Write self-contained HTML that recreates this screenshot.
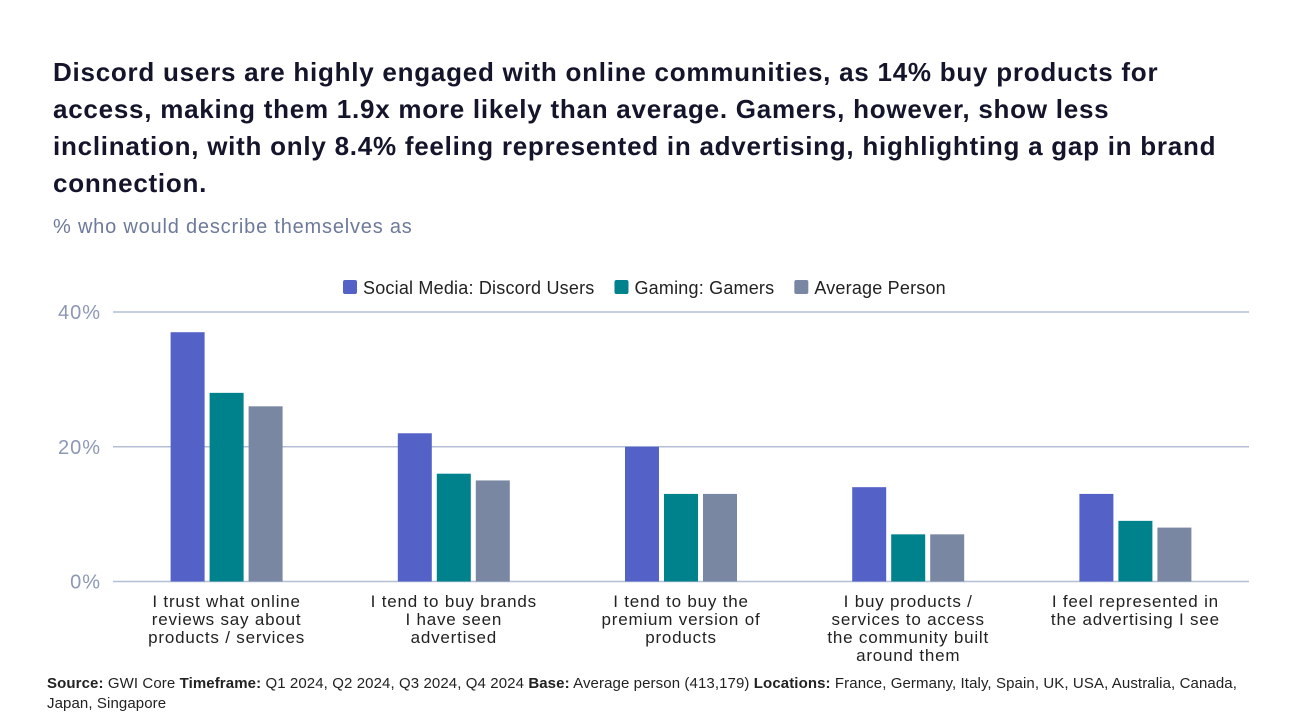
<!DOCTYPE html>
<html><head><meta charset="utf-8"><style>
body{margin:0;width:1292px;height:722px;background:#fff;font-family:"Liberation Sans",sans-serif;overflow:hidden;position:relative}
#title{position:absolute;left:53px;top:54px;white-space:nowrap;font-size:26px;font-weight:bold;line-height:37px;color:#14142b;letter-spacing:0.75px}
#sub{position:absolute;left:53px;top:216px;font-size:20px;color:#6d7a99;letter-spacing:0.8px}
#foot{position:absolute;left:47px;top:674px;white-space:nowrap;font-size:15px;line-height:20px;color:#222;letter-spacing:0.1px}
svg{position:absolute;left:0;top:0}
</style></head><body>
<div id="title">Discord users are highly engaged with online communities, as 14% buy products for<br>access, making them 1.9x more likely than average. Gamers, however, show less<br>inclination, with only 8.4% feeling represented in advertising, highlighting a gap in brand<br>connection.</div>
<div id="sub">% who would describe themselves as</div>
<svg id="chart" width="1292" height="722"></svg>
<div id="foot"><b>Source:</b> GWI Core <b>Timeframe:</b> Q1 2024, Q2 2024, Q3 2024, Q4 2024 <b>Base:</b> Average person (413,179) <b>Locations:</b> France, Germany, Italy, Spain, UK, USA, Australia, Canada,<br>Japan, Singapore</div>
<script>
const categories=[["I trust what online","reviews say about","products / services"],["I tend to buy brands","I have seen","advertised"],["I tend to buy the","premium version of","products"],["I buy products /","services to access","the community built","around them"],["I feel represented in","the advertising I see"]];
const seriesNames=["Social Media: Discord Users","Gaming: Gamers","Average Person"];
const discord=[37,22,20,14,13];
const gamers=[28,16,13,7,9];
const average=[26,15,13,7,8];
const ticks=[0,20,40];
const tickLabels=["0%","20%","40%"];
const colors=["#5462c8","#00828c","#7a87a3"];
const series=[discord,gamers,average];
const svg=document.getElementById('chart');const NS="http://www.w3.org/2000/svg";
const x0=113,x1=1249,y0=581.5,yTop=312,maxV=40;
const y=v=>y0-(y0-yTop)*v/maxV;
const gw=(x1-x0)/categories.length;
const xc=i=>x0+gw*(i+0.5);
function mk(t,a){const e=document.createElementNS(NS,t);for(const k in a)e.setAttribute(k,a[k]);svg.appendChild(e);return e;}
ticks.forEach((t,i)=>{
 const l=mk('line',{x1:x0,x2:x1,y1:y(t),y2:y(t),stroke:'#b4bfd6','stroke-width':1.5});
 
 
 const tx=mk('text',{x:101,y:y(t)+7,'text-anchor':'end','font-size':20,fill:'#8c98b4','letter-spacing':1});tx.textContent=tickLabels[i];
 
 
});
const bw=34,sp=39;
series.forEach((s,si)=>s.forEach((v,i)=>{
 const bx=xc(i)+(si-1)*sp-bw/2;
 const r=mk('rect',{x:bx,y:y(v),width:bw,height:y0-y(v),fill:colors[si]});
 
 
}));
categories.forEach((c,i)=>{
 c.forEach((ln,j)=>{const t=mk('text',{x:xc(i),y:607+j*18,'text-anchor':'middle','font-size':17,fill:'#222','letter-spacing':0.8});t.textContent=ln;
 
 });
});
let lx=343;
seriesNames.forEach((n,i)=>{
 const r=mk('rect',{x:lx,y:280,width:14,height:14,rx:2,fill:colors[i]});
 
 
 const t=mk('text',{x:lx+20,y:294,'font-size':18,fill:'#222','letter-spacing':0.2});t.textContent=n;
 
 
 lx+=20+t.getComputedTextLength()+20;
});
</script>
</body></html>
